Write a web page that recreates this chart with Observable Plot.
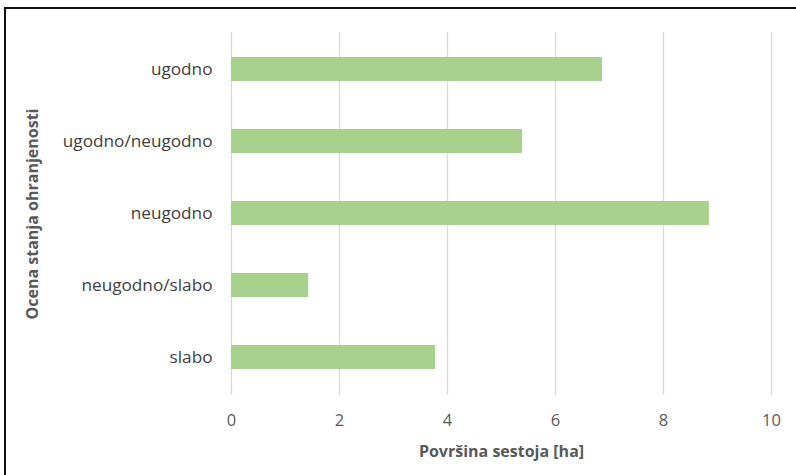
<!DOCTYPE html>
<html>
<head>
<meta charset="utf-8">
<script src="https://cdn.jsdelivr.net/npm/d3@7"></script>
<script src="https://cdn.jsdelivr.net/npm/@observablehq/plot@0.6"></script>
<style>
  body { margin: 0; background: #fff; }
  #wrap { position: relative; width: 796px; height: 475px; overflow: hidden; }
  .edge { position: absolute; background: #111; }
  #top { left: 4px; top: 7px; width: 792px; height: 2px; }
  #left { left: 4px; top: 7px; width: 2px; height: 468px; }
</style>
</head>
<body>
<div id="wrap"><div class="edge" id="top"></div><div class="edge" id="left"></div></div>
<script>
const categories = ["ugodno", "ugodno/neugodno", "neugodno", "neugodno/slabo", "slabo"];
const values = [6.87, 5.39, 8.85, 1.43, 3.78];
const xTicks = [0, 2, 4, 6, 8, 10];

const data = categories.map((c, i) => ({category: c, value: values[i]}));

const chart = Plot.plot({
  width: 796,
  height: 475,
  marginLeft: 231,
  marginRight: 25,
  marginTop: 32,
  marginBottom: 80,
  style: {fontFamily: "'Open Sans', sans-serif", fontSize: "16px", color: "#595959", background: "transparent"},
  x: {domain: [0, 10], ticks: xTicks},
  y: {domain: categories, paddingInner: 0.66, paddingOuter: 0.33},
  marks: [
    Plot.gridX(xTicks, {stroke: "#d9d9d9", strokeOpacity: 1, strokeWidth: 1.3}),
    Plot.barX(data, {x: "value", y: "category", fill: "#a9d18e"}),
    Plot.axisX({ticks: xTicks, tickSize: 0, tickPadding: 19, fontSize: 16.5, label: null}),
    Plot.axisX({ticks: [], tickSize: 0, fontSize: 16, fontWeight: "bold", label: "Površina sestoja [ha]", labelAnchor: "center", labelOffset: 61, labelArrow: "none"}),
    Plot.axisY({tickSize: 0, tickPadding: 19, fontSize: 17.2, fill: "#404040", label: null}),
    Plot.axisY({ticks: [], tickSize: 0, fontSize: 16, fontWeight: "bold", label: "Ocena stanja ohranjenosti", labelAnchor: "center", labelOffset: 205, labelArrow: "none"})
  ]
});
chart.style.position = "absolute";
chart.style.left = "0px";
chart.style.top = "0px";
document.getElementById("wrap").prepend(chart);
</script>
</body>
</html>
